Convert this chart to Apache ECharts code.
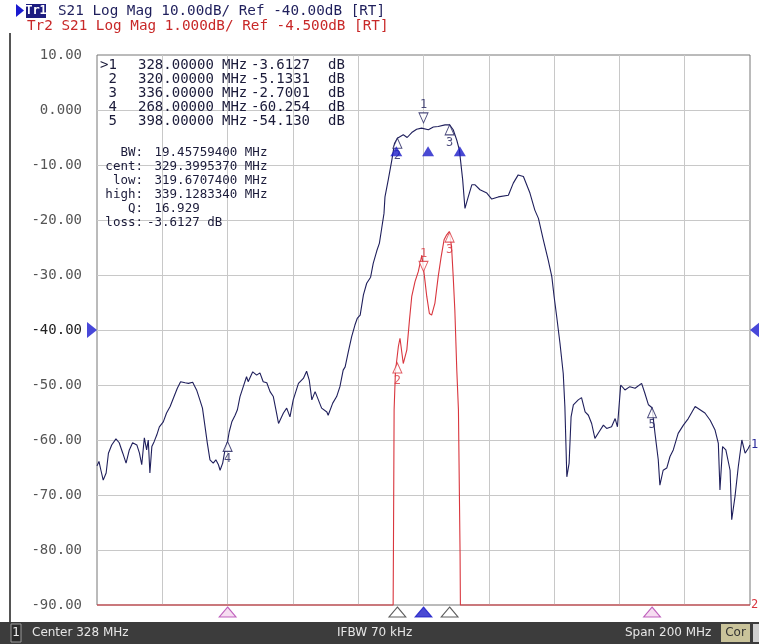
<!DOCTYPE html>
<html lang="en">
<head>
<meta charset="UTF-8">
<title>S21 Log Mag</title>
<script src="https://cdn.jsdelivr.net/npm/echarts@6/dist/echarts.min.js"></script>
<style>
    html, body { margin: 0; padding: 0; background: #fff; }
    #chart { width: 759px; height: 644px; }
</style>
</head>
<body>
<div id="chart"></div>
<script>
// sweep
var startMHz = 228, stopMHz = 428;
var refTr1 = -40;

// Tr1 : S21, 10 dB/div   [MHz, dB]
var tr1Trace = [
    [228.0,-64.7],[228.6,-63.9],[229.2,-65.5],[229.9,-67.3],[230.8,-66.0],[231.5,-62.4],[232.5,-60.9],[233.8,-59.8],
    [234.8,-60.5],[235.9,-62.4],[236.9,-64.2],[237.9,-61.8],[238.9,-60.5],[240.2,-60.9],[241.0,-62.4],[241.7,-64.5],
    [242.5,-59.6],[243.2,-61.8],[243.7,-60.0],[244.2,-66.0],[244.8,-61.2],[245.5,-60.3],[246.3,-59.1],[247.1,-57.6],
    [248.3,-56.7],[249.3,-55.1],[250.4,-53.9],[251.6,-52.1],[252.6,-50.6],[253.6,-49.4],[255.0,-49.6],[256.0,-49.7],
    [257.3,-49.5],[258.5,-50.9],[259.5,-52.7],[260.3,-54.2],[261.1,-57.6],[261.8,-60.6],[262.6,-63.6],[263.6,-64.2],
    [264.4,-63.6],[265.2,-64.5],[265.7,-65.5],[266.5,-64.2],[267.2,-61.8],[268.0,-60.25],[268.5,-58.5],[269.3,-56.7],
    [270.3,-55.5],[271.0,-54.5],[271.8,-52.1],[272.8,-50.3],[273.8,-48.5],[274.3,-49.4],[275.7,-47.6],[276.9,-48.2],
    [277.9,-47.8],[278.9,-49.4],[280.0,-49.6],[281.0,-51.2],[282.0,-52.1],[283.0,-55.1],[283.6,-57.0],[285.1,-55.1],
    [286.1,-54.2],[287.1,-55.8],[288.1,-52.7],[289.7,-49.7],[291.2,-48.8],[292.2,-47.5],[293.0,-49.1],[293.8,-52.7],
    [294.8,-51.2],[295.3,-51.5],[296.8,-54.2],[298.4,-54.9],[298.8,-55.5],[300.2,-53.3],[301.4,-52.1],[302.4,-50.3],
    [303.4,-47.3],[304.0,-46.7],[305.0,-43.9],[306.0,-41.2],[307.0,-39.1],[307.7,-37.9],[308.6,-37.3],[309.6,-33.6],
    [310.6,-31.5],[311.8,-30.4],[312.6,-27.9],[313.7,-25.6],[314.5,-24.2],[315.2,-21.5],[315.9,-18.8],[316.2,-15.8],
    [317.2,-12.7],[318.3,-9.1],[319.1,-6.1],[320.0,-5.13],[320.6,-5.1],[321.8,-4.5],[323.0,-5.0],[324.4,-4.1],
    [325.9,-3.5],[327.4,-3.3],[328.0,-3.61],[329.5,-3.6],[331.0,-3.1],[332.5,-3.0],[334.6,-2.7],[336.0,-2.70],
    [337.1,-3.6],[338.2,-5.5],[339.0,-7.3],[340.0,-12.7],[340.7,-17.9],[341.7,-15.8],[342.8,-13.6],[343.8,-13.6],
    [345.3,-14.5],[347.4,-15.1],[348.9,-16.2],[350.9,-15.8],[354.0,-15.5],[355.5,-13.3],[357.0,-11.8],[358.6,-12.1],
    [360.6,-15.1],[362.1,-18.2],[363.2,-19.7],[364.7,-23.6],[366.2,-27.3],[367.3,-30.3],[368.0,-33.9],[368.8,-37.6],
    [369.8,-42.4],[370.8,-47.9],[371.3,-53.9],[371.9,-66.7],[372.6,-64.2],[373.2,-55.8],[373.9,-53.6],[375.4,-52.7],
    [376.4,-52.3],[377.5,-54.9],[378.5,-55.5],[379.5,-57.0],[380.5,-59.7],[381.8,-58.5],[383.1,-57.3],[384.1,-57.9],
    [385.6,-57.6],[386.7,-56.1],[387.4,-57.6],[388.4,-50.0],[389.7,-50.9],[391.2,-50.3],[392.8,-50.6],[394.8,-49.7],
    [395.8,-51.5],[396.9,-53.6],[398.0,-54.13],[398.9,-58.8],[399.9,-63.6],[400.4,-68.2],[401.4,-65.5],[402.5,-65.1],
    [403.5,-63.0],[404.5,-61.8],[406.0,-58.8],[407.6,-57.3],[409.1,-56.1],[411.2,-53.9],[412.7,-54.5],[414.2,-55.1],
    [415.8,-56.4],[417.3,-58.2],[418.3,-60.6],[418.8,-69.1],[419.6,-61.2],[420.6,-61.8],[421.9,-65.5],[422.4,-74.5],
    [423.4,-70.3],[424.4,-64.9],[425.5,-60.0],[426.5,-62.4],[427.5,-61.5],[428.0,-60.9]
];

// Tr2 : same S21 at 1 dB/div, sits on the bottom edge (-9.5) outside the passband
var tr2Trace = [
    [228.0,-9.5],[318.7,-9.5],[318.8,-8.4],[319.0,-5.95],[319.4,-5.26],[320.3,-4.80],[320.8,-4.65],[321.8,-5.11],
    [322.9,-4.86],[323.7,-4.32],[324.4,-3.89],[325.4,-3.62],[326.4,-3.44],[327.5,-3.14],[328.3,-3.53],[329.0,-3.89],
    [329.8,-4.20],[330.5,-4.23],[331.5,-4.01],[332.5,-3.53],[333.4,-3.17],[334.3,-2.86],[335.1,-2.77],[335.9,-2.71],
    [336.6,-2.99],[337.1,-3.53],[337.6,-4.14],[338.2,-5.23],[338.7,-5.95],[339.2,-8.55],[339.3,-9.5],[428.0,-9.5]
];

var markerFreq = [328, 320, 336, 268, 398];
var markerTr1 = [-3.6127, -5.1331, -2.7001, -60.254, -54.130];
var markerTr2 = [-3.38, -5.1, -2.72];           // markers 4,5 are off screen on Tr2
var bwFreq = [319.67074, 329.399537, 339.128334];
var bwLevel = -6.6127;
var bwLabels = ['BW:', 'cent:', 'low:', 'high:', 'Q:', 'loss:'];
var bwValues = [' 19.45759400 MHz', ' 329.3995370 MHz', ' 319.6707400 MHz', ' 339.1283340 MHz', ' 16.929', '-3.6127 dB'];

var mono = '"DejaVu Sans Mono", monospace';
var sans = '"DejaVu Sans", sans-serif';
var navy = '#1f1f5c';
var red = '#d9363e';

var chart = echarts.init(document.getElementById('chart'));

function markerItems(vals, activeOffset) {
    return vals.map(function (v, i) {
        var active = i === 0;
        return {
            name: String(i + 1),
            value: [markerFreq[i], v],
            symbolRotate: active ? 180 : 0,
            symbolOffset: active ? [0, activeOffset] : [0, 5],
            label: { position: active ? 'top' : 'bottom' }
        };
    });
}

// marker list text, top-left of the plot
var graphics = [];
markerFreq.forEach(function (f, i) {
    var y = 65 + i * 14;
    var cells = [
        [100, (i === 0 ? '>' : ' ') + (i + 1)],
        [138, f.toFixed(5)],
        [222, 'MHz'],
        [251, markerTr1[i].toPrecision(5)],
        [328, 'dB']
    ];
    cells.forEach(function (c) {
        graphics.push({ type: 'text', style: { x: c[0], y: y, text: c[1], fill: '#1b1b3a',
            font: '14px ' + mono, textVerticalAlign: 'middle' }, z: 10 });
    });
});
bwLabels.forEach(function (lb, i) {
    var y = 153 + i * 14;
    graphics.push({ type: 'text', style: { x: 143, y: y, text: lb, fill: '#1b1b3a', font: '12.5px ' + mono,
        textAlign: 'right', textVerticalAlign: 'middle' }, z: 10 });
    graphics.push({ type: 'text', style: { x: 147, y: y, text: bwValues[i], fill: '#1b1b3a', font: '12.5px ' + mono,
        textVerticalAlign: 'middle' }, z: 10 });
});

// header
graphics.push(
    { type: 'polygon', shape: { points: [[16, 4], [16, 17], [24, 10.5]] }, style: { fill: '#1a1ad0' } },
    { type: 'rect', shape: { x: 26, y: 4, width: 20, height: 14 }, style: { fill: '#1c1c80' } },
    { type: 'text', style: { x: 36, y: 11, text: 'Tr1', fill: '#fff', font: 'bold 12px ' + mono,
        textAlign: 'center', textVerticalAlign: 'middle' } },
    { type: 'text', style: { x: 58, y: 11, text: 'S21 Log Mag 10.00dB/ Ref -40.00dB [RT]', fill: navy,
        font: '14.3px ' + mono, textVerticalAlign: 'middle' } },
    { type: 'text', style: { x: 27, y: 26, text: 'Tr2 S21 Log Mag 1.000dB/ Ref -4.500dB [RT]', fill: '#c82828',
        font: '14.3px ' + mono, textVerticalAlign: 'middle' } },
    // window edge
    { type: 'rect', shape: { x: 9, y: 33, width: 2, height: 590 }, style: { fill: '#555' } },
    // status bar
    { type: 'rect', shape: { x: 0, y: 622, width: 759, height: 22 }, style: { fill: '#3c3c3c' } },
    { type: 'rect', shape: { x: 11, y: 624, width: 10, height: 18 }, style: { fill: '#2a2a2a', stroke: '#9a9a9a', lineWidth: 1 } },
    { type: 'text', style: { x: 16, y: 633, text: '1', fill: '#f0f0f0', font: '12px ' + sans, textAlign: 'center', textVerticalAlign: 'middle' } },
    { type: 'text', style: { x: 32, y: 633, text: 'Center ' + (startMHz + stopMHz) / 2 + ' MHz', fill: '#e6e6e6', font: '12px ' + sans, textVerticalAlign: 'middle' } },
    { type: 'text', style: { x: 337, y: 633, text: 'IFBW 70 kHz', fill: '#e6e6e6', font: '12px ' + sans, textVerticalAlign: 'middle' } },
    { type: 'text', style: { x: 625, y: 633, text: 'Span ' + (stopMHz - startMHz) + ' MHz', fill: '#e6e6e6', font: '12px ' + sans, textVerticalAlign: 'middle' } },
    { type: 'rect', shape: { x: 721, y: 624, width: 29, height: 18 }, style: { fill: '#c9c39a' } },
    { type: 'text', style: { x: 735.5, y: 633, text: 'Cor', fill: '#333', font: '12px ' + sans, textAlign: 'center', textVerticalAlign: 'middle' } },
    { type: 'rect', shape: { x: 753, y: 624, width: 6, height: 18 }, style: { fill: '#d0d0d0' } }
);

var option = {
    backgroundColor: '#ffffff',
    animation: false,
    grid: { left: 97, top: 55, right: 9, bottom: 39, show: true, borderColor: '#777', borderWidth: 1, backgroundColor: '#fff' },
    xAxis: [
        { type: 'value', min: startMHz, max: stopMHz, show: false },
        // 10 horizontal divisions for the graticule
        { type: 'value', min: 0, max: 10, interval: 1, axisLine: { show: false }, axisTick: { show: false },
          axisLabel: { show: false },
          splitLine: { show: true, showMinLine: false, showMaxLine: false, lineStyle: { color: '#c8c8c8', width: 1 } } }
    ],
    yAxis: [
        { type: 'value', min: -90, max: 10, interval: 10, axisLine: { show: false }, axisTick: { show: false },
          axisLabel: { margin: 15, fontFamily: mono, fontSize: 14, color: '#555',
              formatter: function (v) { var s = v === 0 ? '0.000' : v.toFixed(2); return v === refTr1 ? '{r|' + s + '}' : s; },
              rich: { r: { fontFamily: mono, fontSize: 14, color: '#222' } } },
          splitLine: { show: true, showMinLine: false, showMaxLine: false, lineStyle: { color: '#c8c8c8', width: 1 } } },
        { type: 'value', min: -9.5, max: 0.5, show: false }
    ],
    graphic: graphics,
    series: [
        { name: 'Tr1', type: 'line', xAxisIndex: 0, yAxisIndex: 0, data: tr1Trace, showSymbol: false, z: 4,
          lineStyle: { color: navy, width: 1.1 },
          endLabel: { show: true, formatter: '1', color: '#2a2a9a', fontFamily: mono, fontSize: 12, distance: 1 } },
        { name: 'Tr2', type: 'line', xAxisIndex: 0, yAxisIndex: 1, data: tr2Trace, showSymbol: false, clip: false, z: 3,
          lineStyle: { color: red, width: 1.1 },
          endLabel: { show: true, formatter: '2', color: red, fontFamily: mono, fontSize: 12, distance: 1 } },
        { name: 'Tr1 markers', type: 'scatter', xAxisIndex: 0, yAxisIndex: 0, data: markerItems(markerTr1, -12), z: 6,
          symbol: 'triangle', symbolSize: [9, 10],
          itemStyle: { color: '#fff', borderColor: navy, borderWidth: 1 },
          label: { show: true, formatter: '{b}', color: navy, fontFamily: mono, fontSize: 12, distance: 1 } },
        { name: 'Tr2 markers', type: 'scatter', xAxisIndex: 0, yAxisIndex: 1, data: markerItems(markerTr2, -2), z: 6,
          symbol: 'triangle', symbolSize: [9, 10],
          itemStyle: { color: '#fff', borderColor: red, borderWidth: 1 },
          label: { show: true, formatter: '{b}', color: red, fontFamily: mono, fontSize: 12, distance: 1 } },
        { name: 'BW', type: 'scatter', xAxisIndex: 0, yAxisIndex: 0, z: 7,
          data: bwFreq.map(function (f) { return [f, bwLevel]; }),
          symbol: 'triangle', symbolSize: [12, 10], symbolOffset: [0, 5], itemStyle: { color: '#1c1cc8' } },
        { name: 'stimulus', type: 'scatter', xAxisIndex: 0, yAxisIndex: 0, z: 7, clip: false,
          symbol: 'triangle', symbolSize: [17, 10], symbolOffset: [0, 7],
          data: markerFreq.map(function (f, i) {
              var st = i === 0 ? { color: '#1c1cc8', borderColor: '#1c1cc8' }
                  : i < 3 ? { color: '#fff', borderColor: '#333' } : { color: '#f4d4ee', borderColor: '#b03cae' };
              st.borderWidth = 1;
              return { value: [f, -90], itemStyle: st };
          }) },
        { name: 'ref', type: 'scatter', xAxisIndex: 0, yAxisIndex: 0, z: 7, clip: false,
          symbol: 'triangle', symbolSize: [16, 10],
          data: [
              { value: [startMHz, refTr1], symbolRotate: -90, symbolOffset: [-5, 0] },
              { value: [stopMHz, refTr1], symbolRotate: 90, symbolOffset: [5, 0] }
          ],
          itemStyle: { color: '#1a1ad0' } }
    ]
};
chart.setOption(option);
</script>
</body>
</html>
